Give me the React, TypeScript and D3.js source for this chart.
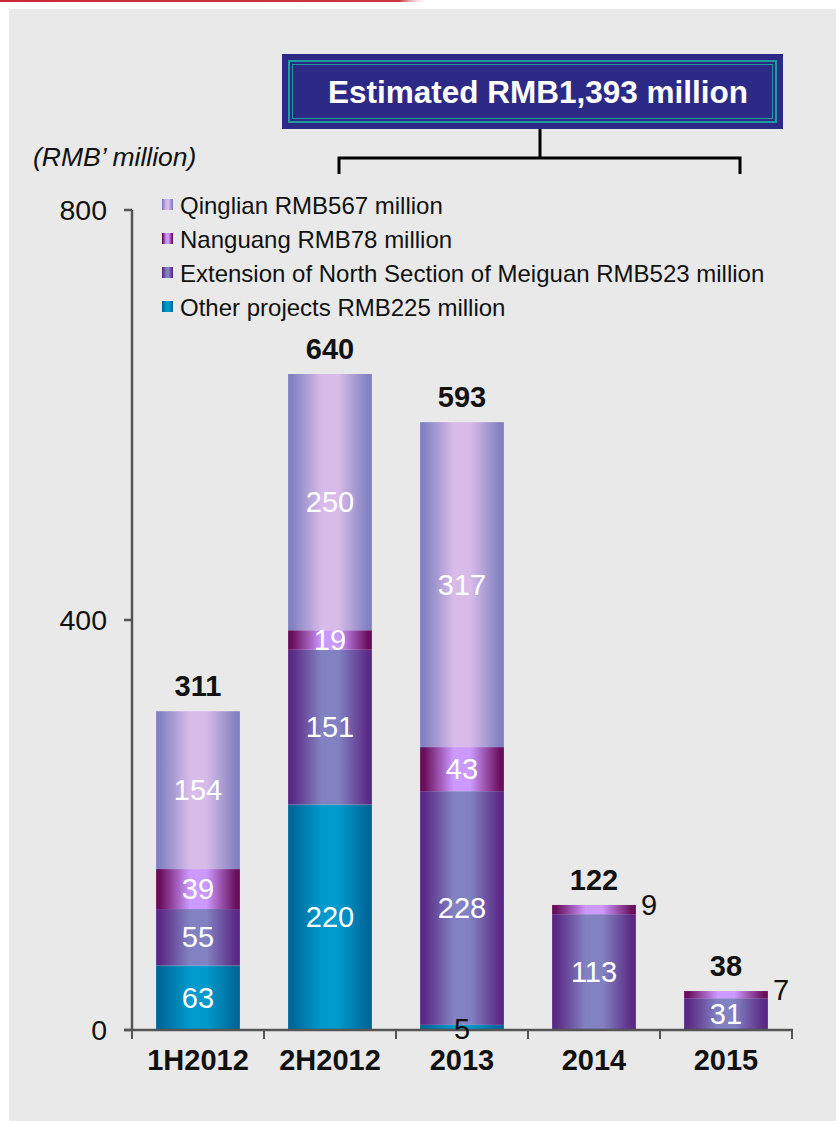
import React from "react";
import * as d3 from "d3";

const categories = ["1H2012", "2H2012", "2013", "2014", "2015"];
const otherProjects = [63, 220, 5, 0, 0];
const meiguan = [55, 151, 228, 113, 31];
const nanguang = [39, 19, 43, 9, 7];
const qinglian = [154, 250, 317, 0, 0];
const totals = [311, 640, 593, 122, 38];
const yTicks = [0, 400, 800];

const seriesKeys = ["other", "meiguan", "nanguang", "qinglian"];
const legendLabels: Record<string, string> = {
  qinglian: "Qinglian RMB567 million",
  nanguang: "Nanguang RMB78 million",
  meiguan: "Extension of North Section of Meiguan RMB523 million",
  other: "Other projects RMB225 million",
};
const legendOrder = ["qinglian", "nanguang", "meiguan", "other"];
const colors: Record<string, { edge: string; light: string }> = {
  qinglian: { edge: "#8282c2", light: "#d8bbe8" },
  nanguang: { edge: "#6a0f5e", light: "#cc99ff" },
  meiguan: { edge: "#5b2a86", light: "#8282c2" },
  other: { edge: "#00679a", light: "#009acc" },
};

const FONT = "'Liberation Sans', Arial, Helvetica, sans-serif";

export default function App() {
  const rows = categories.map((c, i) => ({
    cat: c,
    other: otherProjects[i],
    meiguan: meiguan[i],
    nanguang: nanguang[i],
    qinglian: qinglian[i],
  }));
  const stacked = d3.stack<any>().keys(seriesKeys)(rows);

  const x = d3.scaleBand<string>().domain(categories).range([132, 792]).paddingInner(0).paddingOuter(0);
  const y = d3.scaleLinear().domain([0, 800]).range([1030, 210]);
  const bw = x.bandwidth() * 0.635;
  const barX = (c: string) => (x(c) as number) + (x.bandwidth() - bw) / 2;
  const axisColor = "#555555";

  return (
    <div style={{ position: "absolute", left: 0, top: 0 }}>
      <svg width={836} height={1121} style={{ display: "block" }} fontFamily={FONT}>
        <defs>
          <linearGradient id="redline" x1="0" x2="1" y1="0" y2="0">
            <stop offset="0" stopColor="#c62b38" />
            <stop offset="0.93" stopColor="#c93a3f" />
            <stop offset="1" stopColor="#ffffff" stopOpacity="0" />
          </linearGradient>
          {seriesKeys.map((k) => (
            <linearGradient key={k} id={`g-${k}`} x1="0" x2="1" y1="0" y2="0">
              <stop offset="0" stopColor={colors[k].edge} />
              <stop offset="0.05" stopColor={colors[k].edge} />
              <stop offset="0.4" stopColor={colors[k].light} />
              <stop offset="0.6" stopColor={colors[k].light} />
              <stop offset="0.95" stopColor={colors[k].edge} />
              <stop offset="1" stopColor={colors[k].edge} />
            </linearGradient>
          ))}
        </defs>
        <rect x={0} y={0} width={836} height={1121} fill="#ffffff" />
        <rect x={0} y={0} width={430} height={2} fill="url(#redline)" />
        <rect x={9} y={9} width={827} height={1112} fill="#e9e9e9" />

        {/* header box */}
        <rect x={282} y={54} width={501} height={75} fill="#2d2a87" />
        <rect x={289} y={61} width={487} height={61} fill="none" stroke="#1f9a9e" strokeWidth={2} />
        <rect x={292.5} y={64.5} width={480} height={54} fill="none" stroke="#1f9a9e" strokeWidth={1} />
        <text x={538} y={103} textAnchor="middle" fill="#ffffff" fontWeight="bold" fontSize={31.5}>
          Estimated RMB1,393 million
        </text>
        <path d="M540,129 V158 M339,174 V158 H740 V174" fill="none" stroke="#000" strokeWidth={3} />

        <text x={33} y={166} fontStyle="italic" fontSize={26.5} fill="#111">
          (RMB’ million)
        </text>

        {/* legend */}
        {legendOrder.map((k, i) => (
          <g key={k} transform={`translate(162, ${205 + i * 34})`}>
            <rect x={0} y={-6} width={11} height={11} fill={`url(#g-${k})`} />
            <text x={18} y={0} dominantBaseline="central" fontSize={24} fill="#111">
              {legendLabels[k]}
            </text>
          </g>
        ))}

        {/* bars */}
        {stacked.map((s) => (
          <g key={s.key}>
            {s.map((d, i) => {
              const v = d[1] - d[0];
              if (v <= 0) return null;
              return (
                <rect
                  key={i}
                  x={barX(categories[i])}
                  y={y(d[1])}
                  width={bw}
                  height={y(d[0]) - y(d[1])}
                  fill={`url(#g-${s.key})`}
                />
              );
            })}
          </g>
        ))}

        {/* axes */}
        <line x1={132} x2={132} y1={y(800)} y2={y(0)} stroke={axisColor} strokeWidth={2.5} />
        {yTicks.map((t) => (
          <g key={t}>
            <line x1={124} x2={132} y1={y(t)} y2={y(t)} stroke={axisColor} strokeWidth={2.5} />
            <text x={107} y={y(t)} textAnchor="end" dominantBaseline="central" fontSize={28.5} fill="#111">
              {t}
            </text>
          </g>
        ))}
        <line x1={124} x2={793} y1={y(0)} y2={y(0)} stroke={axisColor} strokeWidth={2.5} />
        {[...categories.map((c) => x(c) as number), 792].map((tx, i) => (
          <line key={i} x1={tx} x2={tx} y1={y(0)} y2={y(0) + 9} stroke={axisColor} strokeWidth={2} />
        ))}

        {/* segment labels */}
        {stacked.map((s, si) => (
          <g key={`l-${s.key}`}>
            {s.map((d, i) => {
              const v = d[1] - d[0];
              if (v <= 0) return null;
              const cx = barX(categories[i]) + bw / 2;
              const cy = (y(d[0]) + y(d[1])) / 2;
              if (v < 10) {
                if (si === 0) {
                  return (
                    <text key={i} x={cx} y={cy + 2} textAnchor="middle" dominantBaseline="central" fontSize={29} fill="#111">
                      {v}
                    </text>
                  );
                }
                return (
                  <text key={i} x={barX(categories[i]) + bw + 5} y={cy - 5} dominantBaseline="central" fontSize={29} fill="#111">
                    {v}
                  </text>
                );
              }
              return (
                <text key={i} x={cx} y={cy} textAnchor="middle" dominantBaseline="central" fontSize={29} fill="#ffffff">
                  {v}
                </text>
              );
            })}
          </g>
        ))}

        {/* totals */}
        {totals.map((t, i) => (
          <text key={i} x={barX(categories[i]) + bw / 2} y={y(t) - 15} textAnchor="middle" fontWeight="bold" fontSize={29} fill="#111">
            {t}
          </text>
        ))}

        {/* category labels */}
        {categories.map((c) => (
          <text key={c} x={(x(c) as number) + x.bandwidth() / 2} y={1070} textAnchor="middle" fontWeight="bold" fontSize={29} fill="#111">
            {c}
          </text>
        ))}
      </svg>
    </div>
  );
}
